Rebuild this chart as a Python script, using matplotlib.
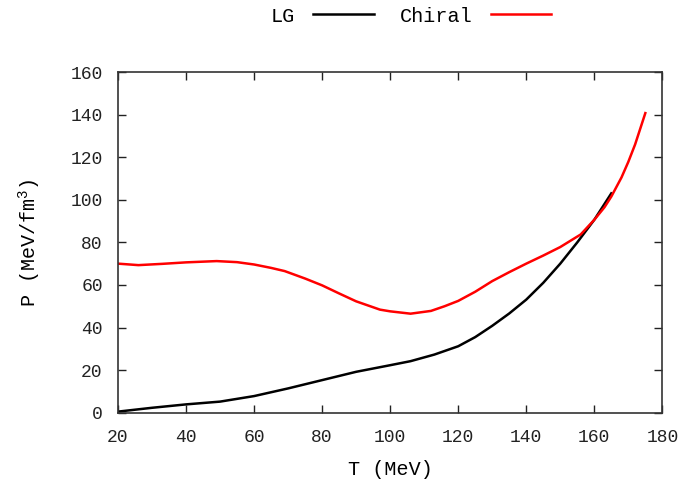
import numpy as np
import matplotlib.pyplot as plt

plt.rcParams['font.family'] = ['Liberation Mono', 'DejaVu Sans Mono']
plt.rcParams['mathtext.fontset'] = 'custom'
plt.rcParams['mathtext.rm'] = 'Liberation Mono'

# pressio vs temperatura, gas de hadrons (LG) i model quiral
T_lg = [20, 30, 40, 50, 60, 70, 80, 90, 100, 106, 113, 120, 125, 130, 135, 140, 145, 150, 155, 160, 165]
P_lg = [0.5, 2.3, 3.9, 5.2, 7.8, 11.4, 15.3, 19.2, 22.3, 24.2, 27.3, 31.2, 35.5, 40.8, 46.6, 53.1, 61.0, 70.0, 80.0, 90.6, 103.0]

T_ch = [20, 26, 33, 40, 49, 55, 60, 65, 69, 75, 80, 85, 90, 97, 100, 106, 112, 116, 120, 125, 130, 135,
        140, 145, 150, 156, 160, 163, 165, 168, 170, 172, 175]
P_ch = [70.0, 69.3, 69.9, 70.6, 71.2, 70.7, 69.6, 68.0, 66.5, 63.0, 59.8, 56.0, 52.3, 48.4, 47.6, 46.5, 47.8,
        50.0, 52.5, 56.8, 61.8, 66.0, 70.0, 73.8, 77.8, 83.7, 90.6, 96.5, 101.5, 110.5, 117.8, 126.0, 140.7]

fig = plt.figure(figsize=(6.88, 4.82), dpi=100)
ax = fig.add_axes([0.1715, 0.1438, 0.9627 - 0.1715, 0.8506 - 0.1438])

ax.plot(T_lg, P_lg, color='black', lw=1.8, label='LG')
ax.plot(T_ch, P_ch, color='red', lw=1.8, label='Chiral')

ax.set_xlim(20, 180)
ax.set_ylim(0, 160)
ax.set_xticks(np.arange(20, 181, 20))
ax.set_yticks(np.arange(0, 161, 20))
ax.tick_params(direction='in', length=6, width=1, top=True, right=True,
               labelsize=13, colors='#222222')
ax.tick_params(axis='x', pad=12)
ax.tick_params(axis='y', pad=11)
for s in ax.spines.values():
    s.set_color('#333333')
    s.set_linewidth(1.2)

ax.set_xlabel('T (MeV)', fontsize=14.5, labelpad=10)
ax.set_ylabel('P (MeV/fm$^3$)', fontsize=14.5, labelpad=20)

fig.legend(loc='center', bbox_to_anchor=(411 / 688, 1 - 16 / 482), ncol=2, frameon=False,
           markerfirst=False, fontsize=14.5, handlelength=3.0, columnspacing=1.3,
           handletextpad=0.9)

plt.savefig('out.png', dpi=100)
